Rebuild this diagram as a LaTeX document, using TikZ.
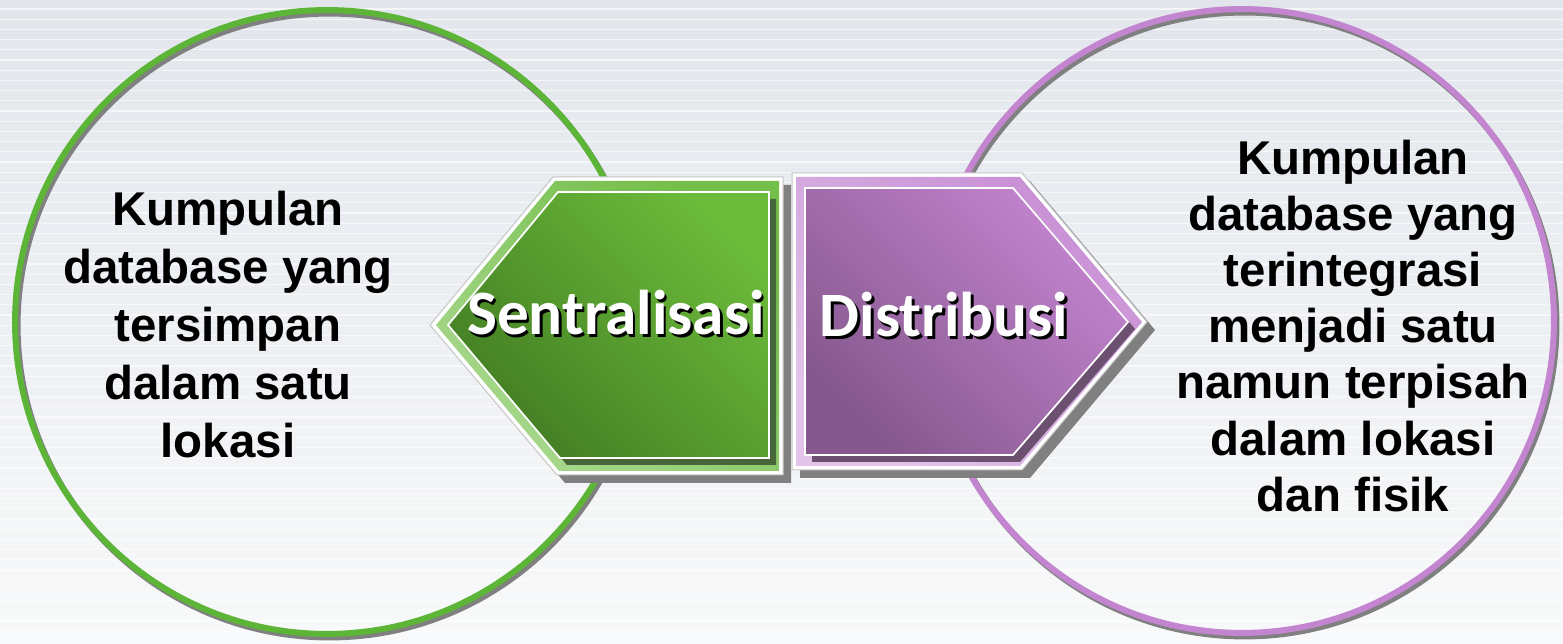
\documentclass[tikz,border=0pt]{standalone}
\usepackage{fontspec}
\setmainfont{Liberation Sans}
\newfontfamily\tagfont{Carlito}
\usetikzlibrary{positioning, calc}
\definecolor{bgtop}{HTML}{E2E6EC}
\definecolor{bgbottom}{HTML}{F8F9FA}
\definecolor{shadowgray}{HTML}{808080}
\definecolor{sentgreen}{HTML}{5CB536}
\definecolor{sentdark}{HTML}{437D23}
\definecolor{sentlight}{HTML}{6BBA3A}
\definecolor{sentband}{HTML}{A8D88E}
\definecolor{sentbandtop}{HTML}{74BE4A}
\definecolor{sentinner}{HTML}{46663A}
\definecolor{distpurple}{HTML}{C384D0}
\definecolor{distdark}{HTML}{85588D}
\definecolor{distlight}{HTML}{C384CF}
\definecolor{distband}{HTML}{E2C4EA}
\definecolor{distbandtop}{HTML}{C88ED4}
\definecolor{distinner}{HTML}{6B5070}
\tikzset{
	ring/.style={circle, inner sep=0pt, minimum size=12.48cm, line width=0.12cm},
	bodytext/.style={align=center, text=black, inner sep=0pt},
	tag/.style={font=\tagfont\bfseries\fontsize{36}{40}\selectfont, inner sep=0pt, anchor=base}
}

\begin{document}
\begin{tikzpicture}[
	x=0.02cm, y=-0.02cm,
	% --- Style Definitions ---
	stripe/.style={white, opacity=0.6, line width=0.025cm},
	frame/.style={fill=white, draw=gray!45, line width=0.02cm},
	dropshade/.style={fill=shadowgray},
	]
	
	% --- Background ---
	\useasboundingbox (0,0) rectangle (1563,644);
	\shade[top color=bgtop, bottom color=bgbottom] (0,0) rectangle (1563,644);
	\foreach \yy in {9,19.2,...,640} {
		\draw[stripe] (0,\yy) -- (1563,\yy);
	}
	
	% --- Circles ---
	\node[ring, draw=shadowgray] (lshade) at (329.5,325.5) {};
	\node[ring, draw=sentgreen] (lcirc) at (327,322) {};
	\node[ring, draw=shadowgray] (rshade) at (1244.5,324.5) {};
	\node[ring, draw=distpurple] (rcirc) at (1242,321) {};
	
	% --- Circle Texts ---
	\node[bodytext, font=\bfseries\fontsize{27}{33}\selectfont] (lefttext) at (228,325)
		{Kumpulan\\database yang\\tersimpan\\dalam satu\\lokasi};
	\node[bodytext, font=\bfseries\fontsize{27}{31.9}\selectfont] (righttext) at (1353,326)
		{Kumpulan\\database yang\\terintegrasi\\menjadi satu\\namun terpisah\\dalam lokasi\\dan fisik};
	
	% --- Sentralisasi (points left) ---
	\fill[dropshade] (438,333) -- (561,185) -- (791,185) -- (791,483) -- (565,483) -- cycle;
	\filldraw[frame] (430,325) -- (553,177) -- (783,177) -- (783,475) -- (557,475) -- cycle;
	\shade[top color=sentbandtop, bottom color=sentband, shading angle=-40]
		(436,325) -- (555,181) -- (779,181) -- (779,471) -- (559,471) -- cycle;
	\fill[sentinner] (455,332) -- (565,199) -- (776,199) -- (776,465) -- (567,465) -- cycle;
	\shade[top color=sentlight, bottom color=sentdark, shading angle=-45, draw=white, line width=0.035cm]
		(448,325) -- (558,192) -- (769,192) -- (769,458) -- (560,458) -- cycle;
	\node[tag, text=black] (sentshade) at (618.5,337.5) {Sentralisasi};
	\node[tag, text=white] (sentlabel) at (616,335) {Sentralisasi};
	
	% --- Distribusi (points right) ---
	\fill[dropshade] (800,181) -- (1030,181) -- (1155,330) -- (1030,478) -- (800,478) -- cycle;
	\filldraw[frame] (792,173) -- (1022,173) -- (1147,322) -- (1022,470) -- (792,470) -- cycle;
	\shade[top color=distbandtop, bottom color=distband, shading angle=-40]
		(796,177) -- (1020,177) -- (1142,322) -- (1020,466) -- (796,466) -- cycle;
	\fill[distinner] (812,195) -- (1020,195) -- (1135,329) -- (1020,462) -- (812,462) -- cycle;
	\shade[top color=distlight, bottom color=distdark, shading angle=-45, draw=white, line width=0.035cm]
		(805,188) -- (1013,188) -- (1128,322) -- (1013,455) -- (805,455) -- cycle;
	\node[tag, text=black] (distshade) at (946.5,339.5) {Distribusi};
	\node[tag, text=white] (distlabel) at (944,337) {Distribusi};
	
\end{tikzpicture}
\end{document}
